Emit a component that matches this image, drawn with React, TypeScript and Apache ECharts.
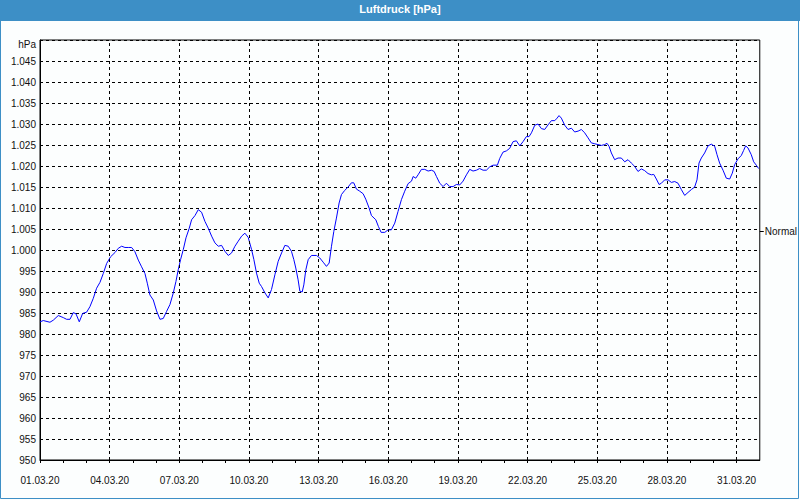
import React, { useEffect, useRef } from "react";
import * as echarts from "echarts";

// Hours since 01.03.20 00:00
const HOURS: number[] = [
  0, 3.4, 10.3, 13.8, 18.9, 24.1, 27.5, 31.0, 34.4, 37.2, 40.6, 44.1, 48.2, 51.6, 55.1, 58.5, 62.0, 65.4, 68.9, 73.0,
  77.5, 80.9, 84.4, 87.8, 91.2, 94.7, 98.1, 101.6, 105.0, 108.5, 110.9, 113.6, 117.1, 120.5, 124.0, 127.4,
  130.9, 134.3, 137.8, 140.5, 142.9, 145.3, 148.1, 150.9, 154.3, 156.7, 160.2, 163.6, 167.0, 170.5, 173.9, 177.4,
  180.8, 184.3, 187.7, 191.1, 194.6, 198.0, 201.5, 204.9, 208.4, 211.8, 215.2, 218.7, 221.1, 223.8, 226.6, 229.0,
  232.5, 235.9, 239.3, 242.8, 246.2, 249.7, 253.1, 256.6,
  259.9, 262.4, 264.4, 266.8, 268.6, 271.0, 272.7, 274.8, 277.2, 280.6, 285.8, 289.2, 292.7, 296.1, 298.9, 301.3,
  303.7, 306.4, 309.2, 311.6, 315.0, 318.5, 321.9, 324.3, 327.1, 330.5, 334.0, 336.7, 340.2, 342.6, 347.1, 349.8,
  352.6, 356.4, 359.8, 363.2, 366.7, 370.1, 373.6, 377.0, 380.5,
  384.0, 385.7, 388.4, 390.8, 394.3, 397.7, 401.2, 404.6, 407.4, 409.8, 413.2, 416.7, 420.1, 423.5, 427.0, 430.4,
  433.9, 437.3, 440.8, 444.2, 447.6, 451.1, 454.5, 458.0, 461.4, 464.9, 468.3, 472.8, 475.2, 478.6, 482.1, 485.5,
  489.0, 492.4, 495.9, 499.3, 502.7, 505.5,
  508.0, 511.4, 514.8, 518.3, 521.7, 525.2, 528.6, 532.1, 534.5, 536.5, 538.9, 542.4, 545.8, 549.3, 552.7, 556.2,
  559.6, 563.0, 566.5, 569.9, 573.4, 576.8, 580.3, 583.7, 586.1, 588.2, 590.6, 594.0, 597.5, 600.9, 604.4, 607.8,
  611.2, 614.7, 618.1, 621.6, 625.0, 628.5,
  632.0, 634.4, 637.1, 639.9, 642.3, 645.7, 649.2, 652.6, 656.1, 659.5, 662.9, 666.4, 669.8, 673.3, 676.7, 679.1,
  681.2, 683.6, 687.0, 690.5, 693.9, 697.4, 699.8, 702.5, 706.0, 709.4, 712.9, 715.6, 718.0, 721.5, 724.9, 727.3,
  729.4, 731.8, 735.2, 737.7, 740.4, 742.8,
];

// Air pressure in hPa
const PRESSURE: number[] = [
  982.9, 983.2, 982.8, 983.3, 984.4, 983.9, 983.5, 983.5, 985.1, 984.8, 982.9, 984.9, 985.2, 986.5, 988.5, 990.9, 992.3, 994.4, 996.8, 998.4,
  999.4, 1000.4, 1000.9, 1000.6, 1000.6, 1000.6, 999.6, 997.6, 996.0, 994.4, 992.1, 989.3, 988.1, 985.5, 983.5, 983.7,
  985.4, 987.0, 989.8, 992.5, 995.3, 997.7, 1000.1, 1002.9, 1005.2, 1007.2, 1008.2, 1009.6, 1009.0, 1006.8, 1005.2, 1003.3,
  1001.7, 1000.9, 1001.1, 999.7, 998.7, 999.3, 1000.9, 1002.1, 1003.3, 1004.0, 1003.0, 1000.1, 997.7, 994.5, 992.1, 991.3,
  989.8, 988.6, 990.6, 994.1, 997.3, 999.3, 1001.1, 1000.9,
  999.7, 997.7, 995.7, 992.9, 990.2, 990.0, 991.7, 995.3, 997.7, 998.7, 998.7, 998.1, 997.1, 996.1, 996.9, 1000.9,
  1004.4, 1007.6, 1011.2, 1013.2, 1014.2, 1015.0, 1016.0, 1016.0, 1014.5, 1014.0, 1013.4, 1012.1, 1010.0, 1008.2, 1007.2, 1005.6,
  1004.2, 1004.2, 1004.8, 1004.8, 1006.4, 1009.2, 1012.0, 1014.0, 1015.8,
  1016.4, 1017.5, 1017.1, 1017.9, 1019.2, 1019.2, 1018.8, 1019.0, 1018.7, 1017.5, 1015.9, 1015.1, 1015.9, 1015.1, 1015.1, 1015.6,
  1015.5, 1016.4, 1017.9, 1019.2, 1018.8, 1019.0, 1019.4, 1019.0, 1019.0, 1019.8, 1020.2, 1020.2, 1021.8, 1023.3, 1023.6, 1024.2,
  1025.8, 1026.0, 1024.8, 1025.8, 1027.0, 1027.0,
  1027.9, 1029.7, 1030.0, 1028.9, 1028.7, 1029.8, 1030.8, 1030.8, 1031.4, 1032.0, 1031.4, 1029.7, 1028.7, 1029.0, 1028.1, 1028.3,
  1028.7, 1027.9, 1026.7, 1025.5, 1025.3, 1025.1, 1024.9, 1025.1, 1025.4, 1024.7, 1023.1, 1021.5, 1021.9, 1021.9, 1021.0, 1021.5,
  1020.7, 1019.9, 1018.7, 1019.3, 1018.9, 1018.2,
  1017.9, 1018.0, 1016.9, 1015.6, 1015.9, 1016.7, 1016.7, 1016.1, 1016.3, 1015.9, 1014.4, 1013.0, 1013.7, 1014.4, 1015.0, 1016.7,
  1020.7, 1021.9, 1023.1, 1024.8, 1025.2, 1024.7, 1022.7, 1020.7, 1019.0, 1017.1, 1016.9, 1018.3, 1020.3, 1021.7, 1022.5, 1023.7,
  1024.8, 1024.3, 1022.7, 1021.0, 1020.2, 1019.4,
];

const X_MIN = 0;
const X_MAX = 744; // 01.04.20 00:00
const MAJOR_TICKS: number[] = [72, 144, 216, 288, 360, 432, 504, 576, 648, 720];
const Y_MIN = 950;
const Y_MAX = 1050;
const Y_STEP = 5;
const NORMAL = 1004.5;
const TITLE = "Luftdruck [hPa]";
const UNIT = "hPa";

const FONT = "'Liberation Sans', Arial, sans-serif";

function fmtDate(h: number): string {
  const day = Math.round(h / 24) + 1;
  return (day < 10 ? "0" + day : "" + day) + ".03.20";
}

function fmtPressure(v: number): string {
  if (v >= 1000) {
    const r = Math.round(v - 1000);
    return "1." + String(r).padStart(3, "0");
  }
  return String(Math.round(v));
}

export default function App() {
  const ref = useRef<HTMLDivElement>(null);

  useEffect(() => {
    if (!ref.current) return;
    const chart = echarts.init(ref.current, null, { renderer: "svg" });
    const data = HOURS.map((h, i) => [h, PRESSURE[i]]);
    const option: any = {
      animation: false,
      backgroundColor: "#fcfefe",
      title: {
        text: TITLE,
        left: "center",
        top: 3,
        padding: 0,
        textStyle: { color: "#ffffff", fontWeight: "bold", fontSize: 11, fontFamily: FONT },
      },
      graphic: [
        { type: "rect", z: -1, shape: { x: 0, y: 0, width: 800, height: 21 }, style: { fill: "#3d8fc6" } },
        {
          type: "rect",
          z: -1,
          shape: { x: 0.5, y: 0.5, width: 798, height: 498 },
          style: { fill: "none", stroke: "#3d8fc6", lineWidth: 1 },
        },
        {
          type: "text",
          x: 36,
          y: 44,
          style: { text: UNIT, align: "right", verticalAlign: "middle", fill: "#111", font: "10px " + FONT },
        },
      ],
      grid: {
        left: 40,
        top: 40,
        width: 720,
        height: 420,
        show: true,
        borderColor: "#000",
        borderWidth: 1,
        backgroundColor: "transparent",
      },
      xAxis: {
        type: "value",
        min: X_MIN,
        max: X_MAX,
        interval: 24,
        axisLine: { show: true, onZero: false, lineStyle: { color: "#000", width: 1 } },
        axisTick: { show: true, length: 3, lineStyle: { color: "#000" } },
        axisLabel: {
          color: "#111",
          fontSize: 10,
          fontFamily: FONT,
          margin: 15,
          showMaxLabel: false,
          formatter: (v: number) => (v % 72 === 0 && v < X_MAX ? fmtDate(v) : ""),
        },
        splitLine: { show: false },
      },
      yAxis: [
        {
          type: "value",
          min: Y_MIN,
          max: Y_MAX,
          interval: Y_STEP,
          axisLine: { show: true, lineStyle: { color: "#000" } },
          axisTick: { show: false },
          axisLabel: {
            color: "#111",
            fontSize: 10,
            fontFamily: FONT,
            margin: 4,
            formatter: (v: number) => (v >= Y_MAX ? "" : fmtPressure(v)),
          },
          splitLine: { show: true, lineStyle: { color: "#000", type: [3, 3], width: 1 } },
        },
        {
          type: "value",
          position: "right",
          min: Y_MIN,
          max: Y_MAX,
          axisLine: { show: false },
          axisTick: { show: true, length: 4, customValues: [NORMAL], lineStyle: { color: "#000" } },
          axisLabel: {
            show: true,
            customValues: [NORMAL],
            color: "#111",
            fontSize: 10,
            fontFamily: FONT,
            margin: 5,
            formatter: () => "Normal",
          },
          splitLine: { show: false },
        },
      ],
      series: [
        {
          type: "line",
          data,
          showSymbol: false,
          symbol: "none",
          lineStyle: { color: "#0000ff", width: 1 },
          silent: true,
          markLine: {
            silent: true,
            symbol: "none",
            label: { show: false },
            lineStyle: { color: "#000", type: [3, 3], width: 1 },
            data: MAJOR_TICKS.map((t) => ({ xAxis: t })),
          },
        },
      ],
    };
    chart.setOption(option);
    return () => chart.dispose();
  }, []);

  return (
    <div
      ref={ref}
      style={{ position: "absolute", left: 0, top: 0, width: 800, height: 500 }}
    />
  );
}
